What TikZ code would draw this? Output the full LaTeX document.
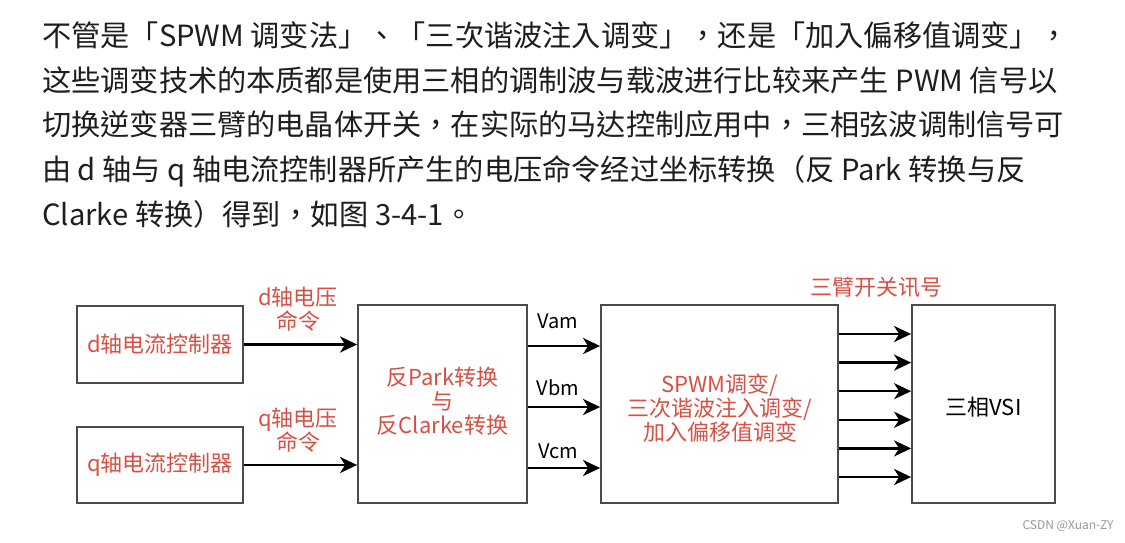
\documentclass[tikz,border=0pt]{standalone}
\usepackage{fontspec}
\setmainfont{Noto Sans CJK SC}
\newfontfamily\tcfont{Noto Sans CJK TC}
\usetikzlibrary{arrows.meta}
\definecolor{lblred}{RGB}{216,80,68}
\definecolor{txtdark}{RGB}{30,30,30}
\definecolor{boxgray}{RGB}{75,75,75}
\tikzset{
  para/.style={anchor=base west, inner sep=0pt, text=txtdark, font=\tcfont\fontsize{29.2pt}{32pt}\selectfont},
  box/.style={draw=boxgray, line width=1.8pt, inner sep=0pt},
  lbl/.style={text=lblred, inner sep=0pt, align=center, font=\fontsize{22pt}{24pt}\selectfont},
  blk/.style={text=black, inner sep=0pt, align=center, font=\fontsize{20pt}{24pt}\selectfont},
  arr/.style={line width=2.7pt, -{Stealth[length=17pt,width=16pt,inset=5pt]}},
}
\begin{document}
\begin{tikzpicture}[x=1pt,y=-1pt]
\fill[white] (0,0) rectangle (1125,542);
\useasboundingbox (0,0) rectangle (1125,542);
% paragraph
\node[para] (l1) at (42,46) {不管是「SPWM 调变法」、「三次谐波注入调变」，还是「加入偏移值调变」，};
\node[para] (l2) at (42,91) {这些调变技术的本质都是使用三相的调制波与载波进行比较来产生 PWM 信号以};
\node[para] (l3) at (42,135) {切换逆变器三臂的电晶体开关，在实际的马达控制应用中，三相弦波调制信号可};
\node[para] (l4) at (42,180) {由 d 轴与 q 轴电流控制器所产生的电压命令经过坐标转换（反 Park 转换与反};
\node[para] (l5) at (42,225) {Clarke 转换）得到，如图 3-4-1。};
% boxes
\node[box, minimum width=166pt, minimum height=77pt] (dbox) at (160,344.5) {};
\node[box, minimum width=166pt, minimum height=76pt] (qbox) at (160,465) {};
\node[box, minimum width=169pt, minimum height=198pt] (mid) at (442.5,404) {};
\node[box, minimum width=237pt, minimum height=198pt] (spwm) at (719.5,404) {};
\node[box, minimum width=143pt, minimum height=198pt] (vsi) at (983.5,404) {};
% box texts
\node[lbl] (dtxt) at (dbox.center) {d轴电流控制器};
\node[lbl] (qtxt) at (qbox.center) {q轴电流控制器};
\node[lbl] (midtxt) at (442.5,401) {反Park转换\\与\\反Clarke转换};
\node[lbl] (spwmtxt) at (720,408.5) {SPWM调变/\\三次谐波注入调变/\\加入偏移值调变};
\node[blk, font=\fontsize{22pt}{24pt}\selectfont] (vsitxt) at (983.5,407) {三相VSI};
% arrows
\draw[arr] (dbox.east) -- (mid.west |- dbox.east);
\draw[arr] (qbox.east) -- (mid.west |- qbox.east);
\coordinate (va) at (0,346);
\coordinate (vb) at (0,407);
\coordinate (vc) at (0,468);
\draw[arr] (mid.east |- va) -- (spwm.west |- va);
\draw[arr] (mid.east |- vb) -- (spwm.west |- vb);
\draw[arr] (mid.east |- vc) -- (spwm.west |- vc);
\foreach \yy [count=\i] in {334,362.6,391.2,419.8,448.4,477}{
  \coordinate (s\i) at (0,\yy);
  \draw[arr, line width=2.5pt] (spwm.east |- s\i) -- (vsi.west |- s\i);
}
% labels
\node[lbl] (dlab) at (298,309) {d轴电压\\命令};
\node[lbl] (qlab) at (298,430) {q轴电压\\命令};
\node[blk] (vam) at (558,321) {Vam};
\node[blk] (vbm) at (558,388) {Vbm};
\node[blk] (vcm) at (558,451) {Vcm};
\node[lbl] (sig) at (876,287) {三臂开关讯号};
\node[text=gray!80, inner sep=0pt, font=\fontsize{12pt}{14pt}\selectfont] (wm) at (1068,526) {CSDN @Xuan-ZY};
\end{tikzpicture}
\end{document}
